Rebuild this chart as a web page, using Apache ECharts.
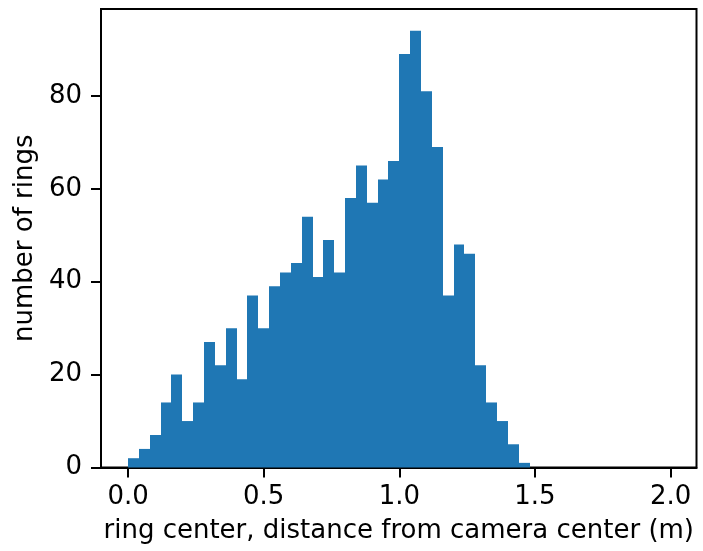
<!DOCTYPE html>
<html>
<head>
<meta charset="utf-8">
<script src="https://cdn.jsdelivr.net/npm/echarts@6/dist/echarts.min.js"></script>
<style>
  html, body { margin: 0; padding: 0; background: #fff; }
  #chart { width: 703px; height: 551px; }
</style>
</head>
<body>
<div id="chart"></div>
<script>
// histogram: 50 bins of 0.04 m starting at 0
const binStart = 0;
const binWidth = 0.04;
const counts = [
    2, 4, 7, 14, 20, 10, 14, 27, 22, 30,
    19, 37, 30, 39, 42, 44, 54, 41, 49, 42,
    58, 65, 57, 62, 66, 89, 94, 81, 69, 37,
    48, 46, 22, 14, 10, 5, 1, 0, 0, 0,
    0, 0, 0, 0, 0, 0, 0, 0, 0, 0
];
const xTicks = [0, 0.5, 1.0, 1.5, 2.0];
const yTicks = [0, 20, 40, 60, 80];

const font = "DejaVu Sans";
const bins = counts.map((c, i) => [binStart + i * binWidth, binStart + (i + 1) * binWidth, c]);

const chart = echarts.init(document.getElementById("chart"), null, { renderer: "canvas" });
chart.setOption({
    animation: false,
    grid: {
        left: 101, right: 6.5, top: 9, bottom: 83.5,
        show: true, borderColor: "#000", borderWidth: 2, backgroundColor: "transparent"
    },
    xAxis: {
        type: "value",
        min: -0.0998,
        max: 2.0956,
        splitLine: { show: false },
        axisLine: { onZero: false, lineStyle: { color: "#000", width: 2 } },
        axisTick: { show: true, length: 10, lineStyle: { color: "#000", width: 2 }, customValues: xTicks },
        axisLabel: {
            customValues: xTicks,
            formatter: (v) => v.toFixed(1),
            color: "#000", fontFamily: font, fontSize: 26, margin: 17
        },
        name: "ring center, distance from camera center (m)",
        nameLocation: "middle",
        nameGap: 51,
        nameTextStyle: { color: "#000", fontFamily: font, fontSize: 26 }
    },
    yAxis: {
        type: "value",
        min: 0,
        max: 98.7,
        splitLine: { show: false },
        axisLine: { show: true, onZero: false, lineStyle: { color: "#000", width: 2 } },
        axisTick: { show: true, length: 10, lineStyle: { color: "#000", width: 2 }, customValues: yTicks },
        axisLabel: {
            customValues: yTicks,
            color: "#000", fontFamily: font, fontSize: 26, margin: 19
        },
        name: "number of rings",
        nameLocation: "middle",
        nameGap: 62,
        nameTextStyle: { color: "#000", fontFamily: font, fontSize: 26 }
    },
    series: [{
        type: "custom",
        data: bins,
        encode: { x: [0, 1], y: 2 },
        renderItem: (params, api) => {
            const top = api.coord([api.value(0), api.value(2)]);
            const base = api.coord([api.value(1), 0]);
            // snap bin edges to whole pixels so neighbouring bars leave no seam
            const x0 = Math.round(top[0]);
            const x1 = Math.round(base[0]);
            return {
                type: "rect",
                shape: { x: x0, y: top[1], width: x1 - x0, height: base[1] - top[1] },
                style: { fill: "#1f77b4" }
            };
        }
    }]
});
</script>
</body>
</html>
